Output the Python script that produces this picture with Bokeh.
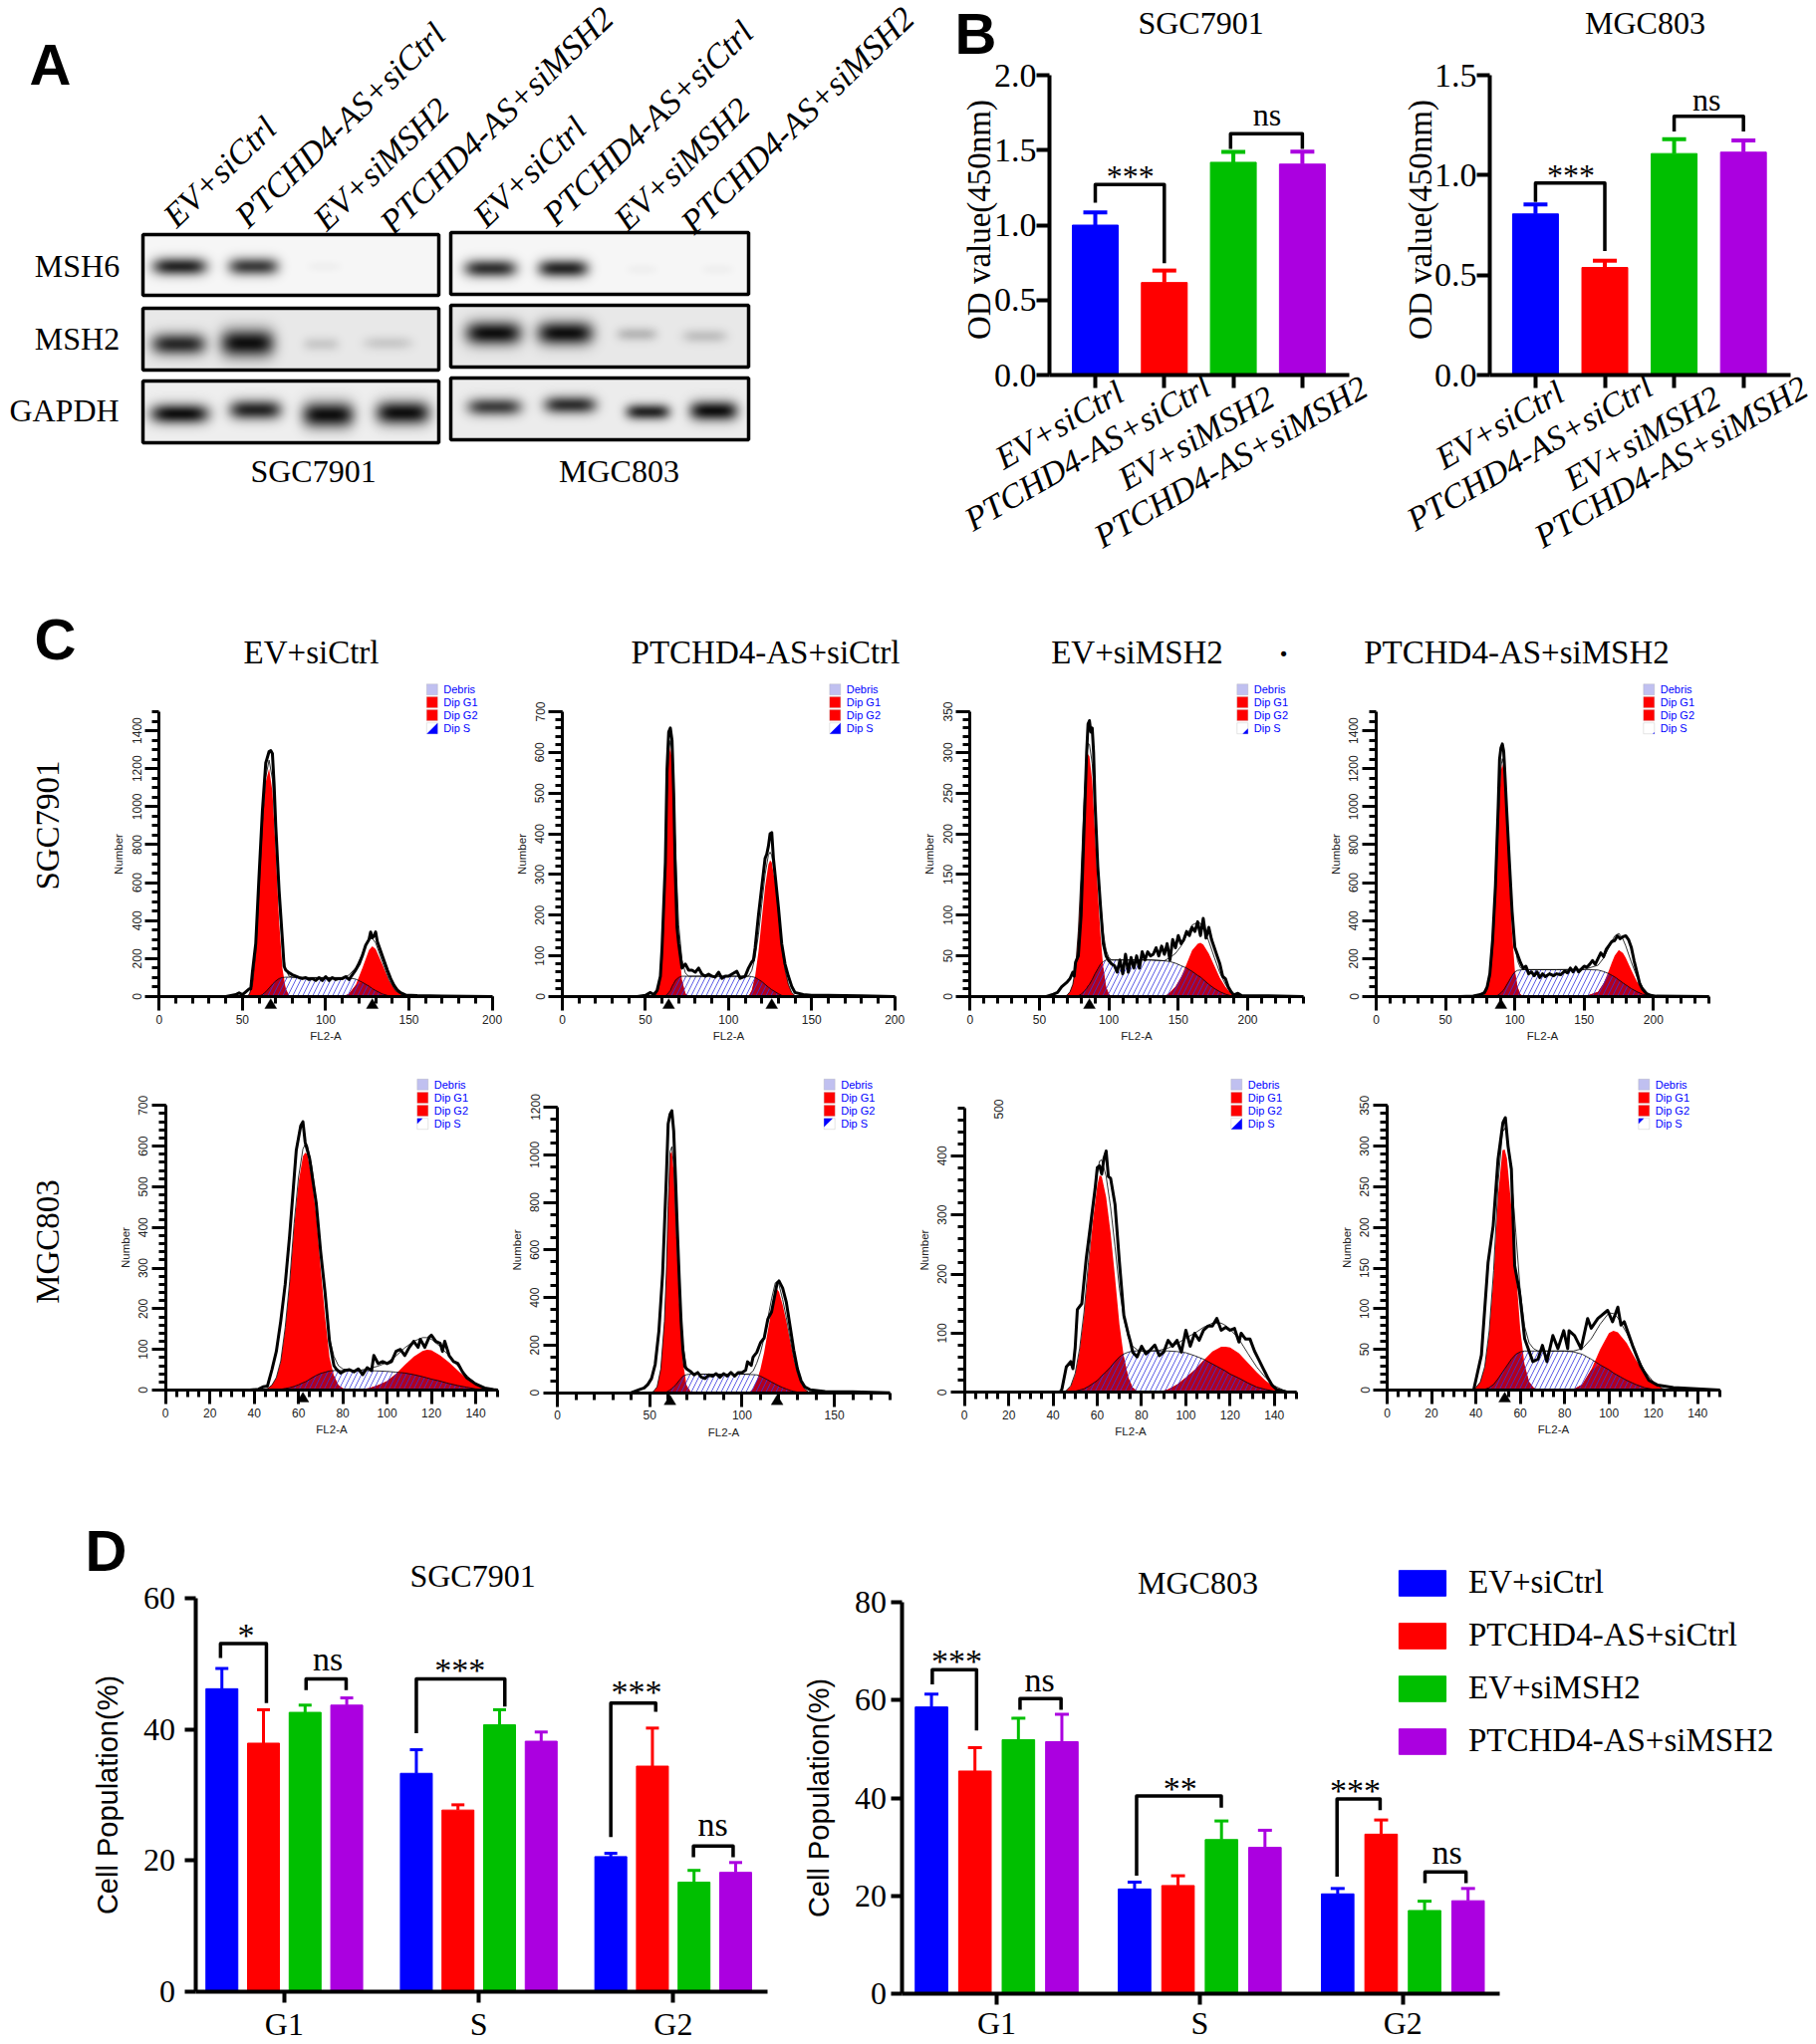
from math import pi

import numpy as np
from bokeh.embed import file_html
from bokeh.layouts import column, row
from bokeh.models import (FixedTicker, Label, Legend, LegendItem, LinearColorMapper,
                          NumeralTickFormatter, PolyAnnotation, Range1d, SingleIntervalTicker)
from bokeh.palettes import Greys256
from bokeh.plotting import figure
from bokeh.resources import INLINE

SERIF = "Liberation Serif"
SANS = "Liberation Sans"

groups = ["EV+siCtrl", "PTCHD4-AS+siCtrl", "EV+siMSH2", "PTCHD4-AS+siMSH2"]
colors = ["#0000ff", "#ff0000", "#00bf00", "#ab00e0"]

# panel A, bands as (x, y, half width, half height, darkness)
msh6_sgc = [(180, 267, 27, 9, .9), (254, 267, 25, 9, .8), (325, 267, 16, 5, .03)]
msh2_sgc = [(179, 345, 27, 11, .88), (248, 344, 27, 14, 1), (322, 345, 18, 7, .14), (389, 344, 24, 7, .14)]
gapdh_sgc = [(180, 415, 29, 10, 1), (256, 411, 26, 10, .9), (329, 416, 26, 13, 1), (404, 414, 27, 12, 1)]
msh6_mgc = [(492, 269, 26, 9, .85), (565, 269, 25, 9, .9), (644, 270, 15, 5, .03), (720, 270, 15, 5, .03)]
msh2_mgc = [(495, 334, 28, 12, 1), (567, 334, 28, 12, 1), (639, 335, 20, 7, .22), (707, 337, 22, 7, .18)]
gapdh_mgc = [(496, 408, 27, 9, .78), (572, 406, 26, 9, .85), (650, 413, 22, 8, .9), (716, 412, 24, 10, 1)]

# panel B
b1_means = [1.0, 0.617, 1.419, 1.407]
b1_errs = [1.085, 0.697, 1.489, 1.49]
b2_means = [0.806, 0.538, 1.108, 1.115]
b2_errs = [0.853, 0.572, 1.18, 1.174]
b1_marks = [(1, 2, 1.271, 1.15, 0.746, "***", 1.51, 1.37), (2.96, 4, 1.61, 1.508, 1.508, "ns", 3.49, 1.74)]
b2_marks = [(1, 2, 0.96, 0.866, 0.62, "***", 1.51, 1.035), (3, 4, 1.294, 1.218, 1.218, "ns", 3.47, 1.376)]

# panel C, fitted populations on one x grid, measured outline on its own
c1_x = [52, 54, 56, 58, 60, 62, 64, 66, 68, 70, 72, 74, 76, 78, 80, 90, 100, 110, 114, 118, 122, 126, 128, 130, 134, 138, 142, 146, 150]
c1_g1 = [0, 10, 60, 230, 560, 900, 1130, 1200, 1080, 760, 400, 150, 40, 5] + [0] * 15
c1_g2 = [0] * 17 + [0, 15, 60, 150, 245, 265, 250, 170, 85, 30, 8, 0]
c1_s = [0, 0, 0, 0, 3, 10, 25, 45, 65, 82, 95, 100, 102, 102, 102, 100, 100, 100, 98, 92, 75, 55, 42, 32, 14, 4, 0, 0, 0]
c1_tx = [40, 46, 48, 50, 54, 55, 56, 58, 60, 62, 64, 66, 67, 68, 69, 70, 72, 74, 75, 76, 78, 80, 84, 86, 88, 90, 92, 94, 96, 98, 100, 102, 104, 106, 108, 110, 112, 114, 116, 118, 120, 122, 124, 126, 127, 128, 129, 130, 131, 133, 135, 137, 139, 141, 143, 145, 148, 155, 170, 200]
c1_ty = [0, 10, 20, 10, 40, 40, 130, 280, 640, 980, 1230, 1290, 1295, 1280, 1120, 900, 560, 300, 160, 140, 125, 115, 100, 95, 100, 90, 95, 85, 100, 85, 105, 85, 100, 90, 95, 95, 105, 90, 115, 140, 170, 215, 270, 300, 340, 310, 320, 340, 290, 240, 190, 140, 95, 60, 35, 20, 8, 5, 3, 0]

c2_x = [54, 56, 58, 60, 61, 62, 63, 64, 65, 66, 67, 68, 70, 72, 74, 76, 80, 100, 110, 112, 114, 116, 118, 120, 122, 124, 125, 126, 128, 130, 132, 134, 136, 138, 140, 142]
c2_g1 = [0, 3, 20, 90, 190, 340, 490, 590, 614, 580, 460, 330, 130, 40, 8, 0] + [0] * 20
c2_g2 = [0] * 20 + [15, 50, 110, 190, 270, 325, 335, 330, 280, 200, 120, 65, 30, 10, 2, 0]
c2_s = [0, 0, 0, 0, 0, 2, 5, 10, 15, 25, 32, 40, 47, 50, 50, 50, 50, 50, 50, 50, 49, 47, 42, 37, 30, 23, 20, 17, 12, 7, 3, 1, 0, 0, 0, 0]
c2_tx = [45, 50, 53, 55, 57, 59, 60, 62, 63, 64, 65, 66, 67, 68, 69, 70, 71, 72, 73, 74, 76, 78, 80, 82, 84, 86, 88, 90, 92, 94, 96, 98, 100, 102, 105, 107, 110, 112, 114, 115, 116, 118, 120, 122, 123, 124, 125, 126, 127, 128, 130, 132, 134, 136, 138, 140, 145, 150, 160, 180, 200]
c2_ty = [0, 3, 10, 5, 15, 50, 120, 330, 560, 650, 660, 630, 500, 300, 170, 130, 100, 70, 75, 80, 65, 65, 60, 70, 55, 50, 55, 50, 48, 60, 45, 50, 50, 55, 62, 45, 50, 70, 85, 90, 120, 200, 270, 340, 350, 370, 400, 403, 340, 300, 220, 130, 80, 50, 25, 10, 5, 3, 3, 2, 0]

c3_x = [68, 70, 72, 74, 76, 78, 80, 82, 84, 85, 86, 88, 90, 92, 94, 96, 98, 100, 102, 104, 110, 120, 130, 140, 144, 148, 152, 156, 160, 164, 166, 168, 172, 176, 180, 184, 188, 192]
c3_g1 = [0, 2, 6, 15, 35, 80, 150, 230, 285, 298, 295, 265, 200, 130, 75, 35, 12, 3, 0, 0] + [0] * 18
c3_g2 = [0] * 24 + [5, 12, 24, 40, 57, 65, 66, 64, 53, 38, 23, 12, 4, 0]
c3_s = [0, 0, 0, 0, 0, 1, 3, 6, 10, 13, 15, 21, 28, 34, 40, 43, 45, 45, 45, 45, 45, 45, 45, 44, 43, 41, 38, 35, 31, 26, 24, 21, 15, 10, 6, 3, 1, 0]
c3_tx = [55, 60, 63, 66, 70, 72, 74, 75, 76, 78, 80, 82, 84, 85, 86, 87, 88, 89, 90, 92, 94, 96, 98, 100, 102, 104, 106, 108, 110, 112, 114, 116, 118, 120, 122, 124, 126, 128, 130, 132, 134, 136, 138, 140, 142, 144, 146, 148, 150, 152, 154, 156, 158, 160, 162, 164, 166, 168, 170, 172, 174, 176, 178, 180, 182, 184, 186, 188, 190, 193, 196, 205, 215, 240]
c3_ty = [0, 3, 5, 12, 18, 22, 30, 25, 42, 50, 100, 200, 300, 335, 339, 325, 330, 300, 240, 160, 110, 65, 50, 44, 40, 38, 30, 45, 28, 52, 30, 48, 35, 50, 35, 55, 45, 55, 50, 52, 60, 50, 62, 52, 65, 45, 70, 60, 75, 65, 70, 80, 75, 85, 80, 92, 75, 96, 72, 85, 70, 60, 50, 40, 25, 22, 12, 6, 2, 4, 1, 1, 1, 0]

c4_x = [74, 76, 78, 80, 82, 84, 86, 88, 90, 91, 92, 94, 96, 98, 100, 102, 104, 106, 110, 130, 150, 160, 164, 168, 170, 172, 175, 178, 180, 184, 188, 192, 196, 200, 204]
c4_g1 = [0, 3, 10, 35, 100, 250, 520, 900, 1190, 1225, 1190, 950, 640, 340, 140, 50, 12, 2] + [0] * 17
c4_g2 = [0] * 21 + [25, 70, 140, 180, 215, 245, 230, 205, 140, 80, 38, 12, 3, 0]
c4_s = [0, 0, 0, 0, 0, 0, 2, 8, 20, 28, 35, 60, 85, 110, 130, 138, 140, 142, 142, 142, 143, 140, 132, 120, 112, 104, 88, 72, 62, 42, 26, 13, 5, 1, 0]
c4_tx = [60, 70, 75, 78, 80, 82, 84, 86, 88, 89, 90, 91, 92, 93, 94, 96, 98, 100, 102, 104, 106, 108, 110, 112, 114, 116, 118, 120, 122, 125, 128, 130, 133, 136, 138, 140, 142, 144, 146, 148, 150, 152, 154, 156, 158, 160, 162, 164, 166, 168, 170, 172, 174, 176, 178, 180, 182, 184, 186, 188, 190, 192, 195, 198, 202, 240]
c4_ty = [0, 3, 10, 20, 50, 120, 300, 580, 1000, 1250, 1310, 1330, 1290, 1150, 1000, 720, 450, 260, 220, 180, 150, 160, 120, 130, 110, 130, 100, 120, 105, 120, 110, 120, 115, 135, 125, 150, 130, 155, 130, 145, 160, 155, 170, 190, 170, 200, 230, 210, 250, 270, 290, 295, 320, 305, 315, 320, 300, 260, 190, 130, 70, 40, 15, 6, 2, 0]

c5_x = [44, 46, 48, 50, 52, 54, 56, 58, 60, 62, 63, 64, 66, 68, 70, 72, 74, 76, 78, 80, 84, 88, 92, 96, 100, 104, 108, 112, 116, 118, 120, 124, 128, 132, 136, 140, 144, 148]
c5_g1 = [0, 4, 12, 30, 70, 150, 260, 400, 510, 575, 584, 580, 520, 430, 300, 180, 80, 35, 12, 4] + [0] * 18
c5_g2 = [0] * 20 + [0, 1, 5, 12, 22, 40, 62, 82, 96, 99, 98, 85, 68, 48, 28, 14, 5, 1]
c5_s = [0, 0, 0, 1, 2, 4, 6, 9, 13, 18, 20, 23, 30, 36, 41, 44, 47, 48, 48, 48, 48, 48, 48, 47, 46, 44, 42, 38, 33, 30, 27, 22, 16, 11, 7, 3, 1, 0]
c5_tx = [38, 42, 44, 46, 48, 50, 52, 54, 56, 58, 59, 60, 61, 62, 63, 65, 68, 70, 72, 74, 76, 77, 79, 81, 83, 85, 87, 89, 91, 93, 94, 96, 98, 100, 102, 104, 106, 108, 110, 112, 114, 115, 117, 119, 120, 122, 124, 125, 126, 128, 130, 132, 134, 136, 140, 144, 148, 150]
c5_ty = [0, 2, 8, 10, 50, 95, 170, 260, 380, 520, 590, 620, 650, 660, 610, 570, 460, 340, 240, 120, 60, 52, 42, 48, 50, 45, 52, 38, 55, 48, 85, 65, 70, 65, 70, 95, 100, 85, 105, 120, 105, 125, 105, 130, 135, 120, 115, 95, 120, 85, 70, 65, 45, 30, 15, 5, 1, 0]

c6_x = [50, 52, 54, 56, 58, 59, 60, 61, 62, 63, 64, 66, 68, 70, 72, 74, 80, 100, 104, 106, 108, 110, 112, 114, 116, 118, 119, 120, 122, 124, 126, 128, 130, 132, 134, 136]
c6_g1 = [0, 5, 25, 100, 300, 500, 780, 1000, 1016, 930, 730, 380, 130, 30, 6, 0] + [0] * 20
c6_g2 = [0] * 18 + [2, 15, 50, 100, 170, 260, 350, 425, 434, 425, 370, 300, 220, 140, 80, 40, 15, 3]
c6_s = [0, 0, 0, 0, 1, 3, 7, 12, 18, 25, 32, 52, 70, 76, 78, 78, 78, 78, 77, 76, 75, 70, 62, 54, 45, 37, 33, 29, 22, 16, 10, 6, 3, 1, 0, 0]
c6_tx = [40, 45, 47, 49, 51, 53, 55, 57, 58, 59, 60, 61, 62, 63, 64, 65, 66, 67, 68, 69, 70, 72, 74, 76, 78, 80, 82, 84, 86, 88, 90, 92, 94, 96, 98, 100, 102, 103, 105, 106, 108, 110, 112, 114, 116, 118, 119, 120, 122, 124, 126, 128, 130, 132, 134, 137, 145, 160, 180]
c6_ty = [0, 15, 20, 35, 60, 120, 260, 500, 700, 900, 1130, 1170, 1185, 1100, 900, 680, 480, 300, 180, 110, 100, 90, 75, 85, 65, 60, 75, 70, 80, 65, 80, 70, 85, 70, 85, 85, 95, 130, 115, 150, 170, 210, 230, 310, 340, 420, 460, 470, 440, 380, 280, 180, 100, 50, 25, 12, 5, 4, 0]

c7_x = [44, 46, 48, 50, 52, 54, 56, 58, 60, 61, 62, 64, 66, 68, 70, 72, 74, 76, 78, 80, 84, 88, 92, 96, 100, 104, 108, 112, 116, 118, 120, 124, 128, 132, 136, 140, 144, 148]
c7_g1 = [0, 3, 10, 30, 70, 130, 210, 290, 350, 367, 365, 330, 270, 195, 115, 60, 25, 8, 2, 0] + [0] * 18
c7_g2 = [0] * 20 + [0, 1, 5, 13, 25, 38, 54, 69, 77, 77, 76, 66, 50, 34, 20, 9, 3, 0]
c7_s = [0, 0, 1, 2, 4, 6, 10, 15, 20, 24, 28, 35, 43, 52, 60, 65, 68, 70, 70, 70, 70, 70, 70, 69, 67, 62, 56, 48, 40, 36, 31, 24, 16, 9, 5, 2, 1, 0]
c7_tx = [43, 44, 46, 48, 49, 50, 51, 53, 55, 57, 59, 60, 61, 62, 63, 64, 65, 66, 68, 70, 72, 74, 75, 76, 78, 80, 82, 84, 86, 88, 90, 92, 94, 96, 98, 100, 102, 104, 106, 108, 110, 112, 114, 116, 118, 120, 122, 124, 125, 127, 129, 131, 133, 135, 137, 139, 141, 145, 150]
c7_ty = [0, 5, 43, 52, 40, 75, 140, 150, 226, 285, 344, 380, 383, 369, 395, 408, 365, 362, 318, 220, 130, 99, 85, 68, 60, 78, 65, 72, 80, 62, 68, 88, 78, 88, 68, 105, 78, 100, 88, 105, 112, 112, 125, 105, 110, 105, 108, 85, 100, 90, 90, 70, 55, 40, 25, 12, 5, 1, 0]

c8_x = [38, 40, 42, 44, 46, 48, 50, 52, 53, 54, 56, 58, 60, 62, 64, 66, 68, 72, 76, 80, 84, 88, 92, 96, 100, 102, 104, 108, 112, 116, 120, 124, 128]
c8_g1 = [0, 3, 10, 28, 70, 140, 240, 295, 296, 285, 225, 150, 75, 30, 10, 3, 0] + [0] * 16
c8_g2 = [0] * 20 + [1, 7, 25, 50, 70, 73, 71, 58, 38, 21, 9, 2, 0]
c8_s = [0, 0, 0, 1, 3, 7, 14, 22, 26, 30, 38, 44, 47, 48, 48, 48, 48, 48, 48, 48, 47, 44, 38, 31, 25, 21, 18, 12, 7, 3, 1, 0, 0]
c8_tx = [39, 42.5, 45.5, 47.8, 50, 52.2, 53.3, 54.5, 56, 57.5, 59.7, 62, 65.7, 68, 70, 72, 74.7, 77, 79.6, 81.4, 82, 84.5, 87.4, 90.4, 92, 95, 99.4, 101.6, 104, 105.4, 106.9, 110.6, 114.4, 118, 122, 129, 150]
c8_ty = [0, 43, 157, 202, 284, 329, 335, 300, 272, 153, 120, 63, 35, 38, 55, 35, 67, 51, 73, 51, 73, 67, 51, 88, 76, 88, 98, 84, 102, 80, 84, 55, 29, 12, 6, 3, 0]

c_peaks = [[67, 128], [64, 126], [86], [90], [62], [61, 119], [], [53]]
c_x_end = [200, 200, 240, 240, 150, 180, 150, 150]
c_y_end = [1500, 700, 350, 1500, 700, 1200, 481, 350]
c_x_step = [50, 50, 50, 50, 20, 50, 20, 20]
c_x_minor = [5, 5, 5, 5, 4, 5, 4, 4]
c_y_step = [200, 100, 50, 200, 100, 200, 100, 50]
c_y_minor = [4, 5, 5, 4, 5, 4, 5, 5]
legend_names = ["Debris", "Dip G1", "Dip G2", "Dip S"]

# panel D, series by group G1, S, G2
d_groups = ["G1", "S", "G2"]
d1_means = [[46.2, 33.3, 20.6], [37.9, 27.7, 34.4], [42.6, 40.7, 16.7], [43.7, 38.2, 18.2]]
d1_errs = [[49.3, 36.9, 21.1], [43.0, 28.5, 40.2], [43.7, 43.0, 18.5], [44.8, 39.6, 19.7]]
d2_means = [[58.6, 21.4, 20.4], [45.5, 22.1, 32.6], [51.9, 31.5, 17.0], [51.5, 29.9, 19.0]]
d2_errs = [[61.2, 22.8, 21.5], [50.3, 24.1, 35.5], [56.3, 35.3, 18.9], [57.1, 33.4, 21.5]]
d1_marks = [(.672, .908, 53.1, 50.9, 44, "*", .803, 55.4), (1.112, 1.318, 47.7, 46, 46, "ns", 1.224, 50.7),
            (1.679, 2.134, 47.7, 39.4, 43.5, "***", 1.903, 50.1), (2.679, 2.91, 44, 23.6, 42.7, "***", 2.811, 46.8),
            (3.104, 3.308, 22.2, 20.5, 20.5, "ns", 3.204, 25.5)]
d2_marks = [(.683, .901, 66.2, 63.2, 53.8, "***", .804, 69.5), (1.115, 1.317, 60.3, 58, 58, "ns", 1.212, 64.2),
            (1.689, 2.106, 40.4, 24.1, 38, "**", 1.904, 43.3), (2.676, 2.888, 39.8, 23.9, 37.5, "***", 2.766, 43),
            (3.109, 3.311, 24.9, 22.6, 22.6, "ns", 3.218, 28.9)]

frames = {}


# frame fills the whole figure, so labels outside the axes are not clipped; axes sit at fixed places
def panel(x0, x1, y0, y1, left, right, top, bottom, xr, yr):
    sx = (xr[1] - xr[0]) / (right - left)
    sy = (yr[1] - yr[0]) / (bottom - top)
    p = figure(width=x1 - x0, height=y1 - y0,
               x_range=Range1d(xr[0] - (left - x0) * sx, xr[1] + (x1 - right) * sx),
               y_range=Range1d(yr[0] - (y1 - bottom) * sy, yr[1] + (top - y0) * sy),
               output_backend="svg", toolbar_location=None, frame_align=False,
               min_border_left=0, min_border_right=0, min_border_top=0, min_border_bottom=0)
    p.grid.visible = False
    p.outline_line_color = None
    p.xaxis.fixed_location = yr[0]
    p.yaxis.fixed_location = xr[0]
    p.xaxis.bounds = xr
    p.yaxis.bounds = yr
    frames[p.id] = (x0, y1)
    return p


def put(p, text, x, y, size, font=SERIF, style="normal", color="black", angle=0, align="center"):
    fl, fb = frames[p.id]
    p.add_layout(Label(x=x - fl, y=fb - y, x_units="screen", y_units="screen", text=text,
                       text_font_size=f"{size}px", text_font=font, text_font_style=style,
                       text_color=color, angle=angle * pi / 180, text_align=align,
                       text_baseline="middle"))


def poly(p, xs, ys, fill, line=None):
    fl, fb = frames[p.id]
    p.add_layout(PolyAnnotation(xs=[x - fl for x in xs], ys=[fb - y for y in ys], xs_units="screen",
                                ys_units="screen", fill_color=fill, fill_alpha=1, line_color=line,
                                line_width=1))


def bars(p, xs, tops, errs, color, width, cap, stem):
    p.segment(xs, tops, xs, errs, line_color=color, line_width=stem)
    p.scatter(xs, errs, marker="dash", size=cap, line_color=color, line_width=stem)
    return p.vbar(x=xs, top=tops, width=width, color=color)


def marks(p, table, size):
    for x1, x2, top, low1, low2, text, tx, ty in table:
        p.line([x1, x1, x2, x2], [low1, top, top, low2], line_color="black", line_width=3.5,
               line_join="round")
        p.add_layout(Label(x=tx, y=ty, text=text, text_font=SERIF, text_font_size=f"{size}px",
                           text_color="black", text_align="center", text_baseline="middle",
                           y_offset=-7 if text[0] == "*" else 0))


def bar_axes(p, xticks, yticks, major_out, font_size, lw=4):
    p.xaxis.ticker = FixedTicker(ticks=xticks)
    p.yaxis.ticker = FixedTicker(ticks=yticks)
    for ax in (p.xaxis, p.yaxis):
        ax.axis_line_width = lw
        ax.axis_line_color = "black"
        ax.major_tick_line_width = lw
        ax.major_tick_line_color = "black"
        ax.major_tick_out = major_out
        ax.major_tick_in = 0
        ax.minor_tick_line_color = None
        ax.major_label_text_font = SERIF
        ax.major_label_text_font_size = f"{font_size}px"
        ax.major_label_text_color = "black"


# panel A
ROW1 = 610
pa = panel(0, 940, 0, ROW1, 0, 940, 0, ROW1, (0, 940), (0, ROW1))
pa.xaxis.visible = False
pa.yaxis.visible = False
grey_map = LinearColorMapper(palette=Greys256, low=0, high=255)


def blot(box, bands, bg):
    left, right, top, bottom = box
    xx, yy = np.meshgrid(np.arange(left, right) + .5, np.arange(top, bottom) + .5)
    dark = np.zeros(xx.shape)
    for cx, cy, hw, hh, d in bands:
        dark += d * np.exp(-(np.abs(xx - cx) / hw) ** 4) * np.exp(-((yy - cy) / hh) ** 2)
    img = bg - (bg - 15) * np.clip(dark, 0, 1)
    pa.image(image=[img[::-1]], x=left, y=ROW1 - bottom, dw=right - left, dh=bottom - top, color_mapper=grey_map)
    pa.quad(left=[left], right=[right], top=[ROW1 - top], bottom=[ROW1 - bottom], fill_alpha=0,
            line_color="black", line_width=3.5)


blot((143, 440, 235, 296), msh6_sgc, 246)
blot((143, 440, 309, 371), msh2_sgc, 232)
blot((143, 440, 382, 444), gapdh_sgc, 238)
blot((452, 751, 233, 295), msh6_mgc, 246)
blot((452, 751, 306, 368), msh2_mgc, 232)
blot((452, 751, 379, 441), gapdh_mgc, 236)

put(pa, "A", 50, 64, 58, SANS, "bold")
for name, y, x in [("MSH6", 266, 77), ("MSH2", 339, 77), ("GAPDH", 411, 64)]:
    put(pa, name, x, y, 32)
put(pa, "SGC7901", 314, 472, 32)
put(pa, "MGC803", 621, 472, 32)
a_x = [220, 341, 382, 498, 531, 650, 684, 800]
a_y = [172, 125, 164, 120, 172, 123, 164, 120]
for i in range(8):
    put(pa, groups[i % 4], a_x[i], a_y[i], 34, style="italic", angle=44)

# panel B
pb1 = panel(940, 1385, 0, ROW1, 1053, 1354, 75, 376, (0.336, 4.68), (0, 2))
for m, e, c, x in zip(b1_means, b1_errs, colors, [1, 2, 3, 4]):
    bars(pb1, [x], [m], [e], c, 46 / 69.3, 24, 4)
marks(pb1, b1_marks, 32)
bar_axes(pb1, [1, 2, 3, 4], [0, .5, 1, 1.5, 2], 13, 34)
pb1.yaxis.formatter = NumeralTickFormatter(format="0.0")
pb1.yaxis.major_label_standoff = 0
pb1.xaxis.major_label_text_color = None
put(pb1, "B", 979, 33, 58, SANS, "bold")
put(pb1, "SGC7901", 1205, 22, 32)
put(pb1, "OD value(450nm)", 982, 220, 33, angle=90)
for g, x, y in zip(groups, [1063, 1091, 1200, 1235], [426, 454, 439, 463]):
    put(pb1, g, x, y, 34, style="italic", angle=30)

pb2 = panel(1385, 1820, 0, ROW1, 1495, 1797, 75, 376, (0.34, 4.68), (0, 1.5))
for m, e, c, x in zip(b2_means, b2_errs, colors, [1, 2, 3, 4]):
    bars(pb2, [x], [m], [e], c, 46 / 69.6, 24, 4)
marks(pb2, b2_marks, 32)
bar_axes(pb2, [1, 2, 3, 4], [0, .5, 1, 1.5], 13, 34)
pb2.yaxis.formatter = NumeralTickFormatter(format="0.0")
pb2.yaxis.major_label_standoff = 0
pb2.xaxis.major_label_text_color = None
put(pb2, "MGC803", 1651, 22, 32)
put(pb2, "OD value(450nm)", 1425, 220, 33, angle=90)
for g, x, y in zip(groups, [1505, 1535, 1648, 1677], [426, 454, 439, 463]):
    put(pb2, g, x, y, 34, style="italic", angle=30)

# panel C
hist = [(c1_x, c1_g1, c1_g2, c1_s, c1_tx, c1_ty), (c2_x, c2_g1, c2_g2, c2_s, c2_tx, c2_ty),
        (c3_x, c3_g1, c3_g2, c3_s, c3_tx, c3_ty), (c4_x, c4_g1, c4_g2, c4_s, c4_tx, c4_ty),
        (c5_x, c5_g1, c5_g2, c5_s, c5_tx, c5_ty), (c6_x, c6_g1, c6_g2, c6_s, c6_tx, c6_ty),
        (c7_x, c7_g1, c7_g2, c7_s, c7_tx, c7_ty), (c8_x, c8_g1, c8_g2, c8_s, c8_tx, c8_ty)]
c_left = [159.3, 564, 973.3, 1381, 165.7, 559, 967.7, 1392]
c_right = [493.6, 897.7, 1307.7, 1715, 499.3, 892.7, 1301, 1726]
c_top = [714, 714, 714, 714, 1109.3, 1111, 1111.7, 1109.3]
c_base = [1000, 1000, 1000, 1000, 1395, 1397.7, 1397.3, 1395]
c_cut = [[0, 510, 918, 1325, 1820], [0, 510, 905, 1335, 1820]]
c_rows = [(ROW1, 1058), (1058, 1480)]
swatch_x = [427.8, 832.3, 1241.3, 1649.3, 418.3, 826.7, 1235.3, 1644.3]
swatch_y = [[691.7, 704.6, 717.6, 730.7]] * 4 + [[1088.3, 1101.6, 1114.6, 1127.7]] * 4
s_corner = [[(0, 1), (1, 0), (1, 1)], [(0, 1), (1, 0), (1, 1)], [(.5, 1), (1, .5), (1, 1)], [(.85, 1), (1, .85), (1, 1)],
            [(0, 0), (.5, 0), (0, .5)], [(0, 0), (.8, 0), (0, .8)], [(0, 1), (1, 0), (1, 1)], [(0, 0), (.5, 0), (0, .5)]]

c_figs = []
for i, (x, g1, g2, s, tx, ty) in enumerate(hist):
    r = i // 4
    k = i % 4
    p = panel(c_cut[r][k], c_cut[r][k + 1], c_rows[r][0], c_rows[r][1], c_left[i], c_right[i], c_top[i], c_base[i],
              (0, c_x_end[i]), (0, c_y_end[i]))
    g1, g2, s = np.array(g1, float), np.array(g2, float), np.array(s, float)
    base = np.zeros(len(x))
    p.varea(x=x, y1=base, y2=g1, fill_color="#ff0000")
    p.varea(x=x, y1=base, y2=g2, fill_color="#ff0000")
    p.varea(x=x, y1=base, y2=np.minimum(s, g1 + g2), fill_color="#b00020")
    p.varea(x=x, y1=base, y2=s, fill_alpha=0, hatch_pattern="right_diagonal_line", hatch_color="#3434e0",
            hatch_scale=10, hatch_weight=0.8)
    p.line(x, s, line_color="black", line_width=0.8)
    p.line(x, g1 + g2 + s, line_color="black", line_width=0.8)
    p.line(tx, ty, line_color="black", line_width=3, line_join="round")
    p.xaxis.ticker = SingleIntervalTicker(interval=c_x_step[i], num_minor_ticks=c_x_minor[i])
    p.yaxis.ticker = SingleIntervalTicker(interval=c_y_step[i], num_minor_ticks=c_y_minor[i])
    for ax in (p.xaxis, p.yaxis):
        ax.axis_line_width = 3
        ax.axis_line_color = "black"
        ax.major_tick_line_width = 3
        ax.major_tick_line_color = "black"
        ax.minor_tick_line_width = 3
        ax.minor_tick_line_color = "black"
        ax.major_tick_out = 14
        ax.major_tick_in = 0
        ax.minor_tick_out = 7
        ax.minor_tick_in = 0
        ax.major_label_text_font = SANS
        ax.major_label_text_font_size = "12px"
        ax.major_label_text_color = "#222222"
        ax.major_label_standoff = 4
        ax.axis_label_text_font = SANS
        ax.axis_label_text_font_size = "11.5px"
        ax.axis_label_text_font_style = "normal"
        ax.axis_label_text_color = "#222222"
        ax.axis_label_standoff = 5
    p.xaxis.axis_label = "FL2-A"
    p.xaxis.axis_label_standoff = 3
    p.yaxis.axis_label = "Number"
    p.yaxis.major_label_orientation = "vertical"
    p.xaxis[0].formatter.use_scientific = False
    p.yaxis[0].formatter.use_scientific = False
    # G1 and G2 position markers under the axis
    fl, fb = frames[p.id]
    scale = (c_right[i] - c_left[i]) / c_x_end[i]
    for peak in c_peaks[i]:
        p.add_layout(PolyAnnotation(xs=[peak - 6 / scale, peak + 6 / scale, peak], ys=[fb - c_base[i] - 12, fb - c_base[i] - 12, fb - c_base[i] - 2],
                                    xs_units="data", ys_units="screen", fill_color="black", fill_alpha=1, line_color="black"))
    # legend box
    sw = swatch_x[i]
    fills = ["#c0c0f0", "#ff0000", "#ff0000", "#ffffff"]
    for name, yc, fill in zip(legend_names, swatch_y[i], fills):
        poly(p, [sw, sw + 11, sw + 11, sw], [yc - 5.5, yc - 5.5, yc + 5.5, yc + 5.5], fill, "#a8a8a8")
        put(p, name, sw + 17, yc, 11, SANS, color="#0000ff", align="left")
    yc = swatch_y[i][3]
    poly(p, [sw + 11 * a for a, b in s_corner[i]], [yc - 5.5 + 11 * b for a, b in s_corner[i]], "#0000ff")
    c_figs.append(p)

put(c_figs[0], "C", 55, 641, 58, SANS, "bold")
put(c_figs[0], "SGC7901", 47, 828, 33, angle=90)
put(c_figs[4], "MGC803", 47, 1246, 33, angle=90)
for k, (g, x) in enumerate(zip(groups, [312, 768, 1141, 1522])):
    put(c_figs[k], g, x, 654, 33)
put(c_figs[2], "·", 1288, 655, 32, style="bold")
put(c_figs[6], "500", 1002, 1113, 12, SANS, color="#222222", angle=90)

# panel D
off = [-0.321, -0.107, 0.107, 0.321]
ROW4 = 2050
pd1 = panel(0, 800, 1480, ROW4, 195.5, 770, 1604, 1999, (0.542, 3.485), (0, 60))
for j in range(4):
    bars(pd1, [g + off[j] for g in [1, 2, 3]], d1_means[j], d1_errs[j], colors[j], .164, 13, 3)
marks(pd1, d1_marks, 34)
bar_axes(pd1, [1, 2, 3], [0, 20, 40, 60], 11, 32)
pd1.xaxis.major_label_overrides = {1: "G1", 2: "S", 3: "G2"}
pd1.xaxis.major_label_standoff = 3
pd1.yaxis.major_label_standoff = 9
pd1.yaxis.axis_label = "Cell Population(%)"
pd1.yaxis.axis_label_text_font = SANS
pd1.yaxis.axis_label_text_font_size = "29px"
pd1.yaxis.axis_label_text_font_style = "normal"
pd1.yaxis.axis_label_text_color = "black"
pd1.yaxis.axis_label_standoff = 18
put(pd1, "D", 106, 1556, 58, SANS, "bold")
put(pd1, "SGC7901", 474, 1581, 32)

pd2 = panel(800, 1820, 1480, ROW4, 904.6, 1504.6, 1608, 2001, (0.532, 3.475), (0, 80))
rs = []
for j in range(4):
    rs.append(bars(pd2, [g + off[j] for g in [1, 2, 3]], d2_means[j], d2_errs[j], colors[j], .16, 14, 3))
marks(pd2, d2_marks, 34)
bar_axes(pd2, [1, 2, 3], [0, 20, 40, 60, 80], 11, 32)
pd2.xaxis.major_label_overrides = {1: "G1", 2: "S", 3: "G2"}
pd2.xaxis.major_label_standoff = 0
pd2.yaxis.major_label_standoff = 4
pd2.yaxis.axis_label = "Cell Population(%)"
pd2.yaxis.axis_label_text_font = SANS
pd2.yaxis.axis_label_text_font_size = "29px"
pd2.yaxis.axis_label_text_font_style = "normal"
pd2.yaxis.axis_label_text_color = "black"
pd2.yaxis.axis_label_standoff = 18
put(pd2, "MGC803", 1202, 1588, 32)
legend = Legend(items=[LegendItem(label=g, renderers=[r]) for g, r in zip(groups, rs)],
                location=(598, 2050 - 1766),
                background_fill_alpha=0, border_line_color=None, glyph_width=59, glyph_height=32, label_standoff=17,
                spacing=16, padding=0, margin=0, label_text_font=SERIF, label_text_font_size="33px",
                label_text_color="black")
pd2.add_layout(legend)

page = column(row(pa, pb1, pb2), row(*c_figs[:4]), row(*c_figs[4:]), row(pd1, pd2))
open("out.html", "w").write(file_html(page, INLINE))
